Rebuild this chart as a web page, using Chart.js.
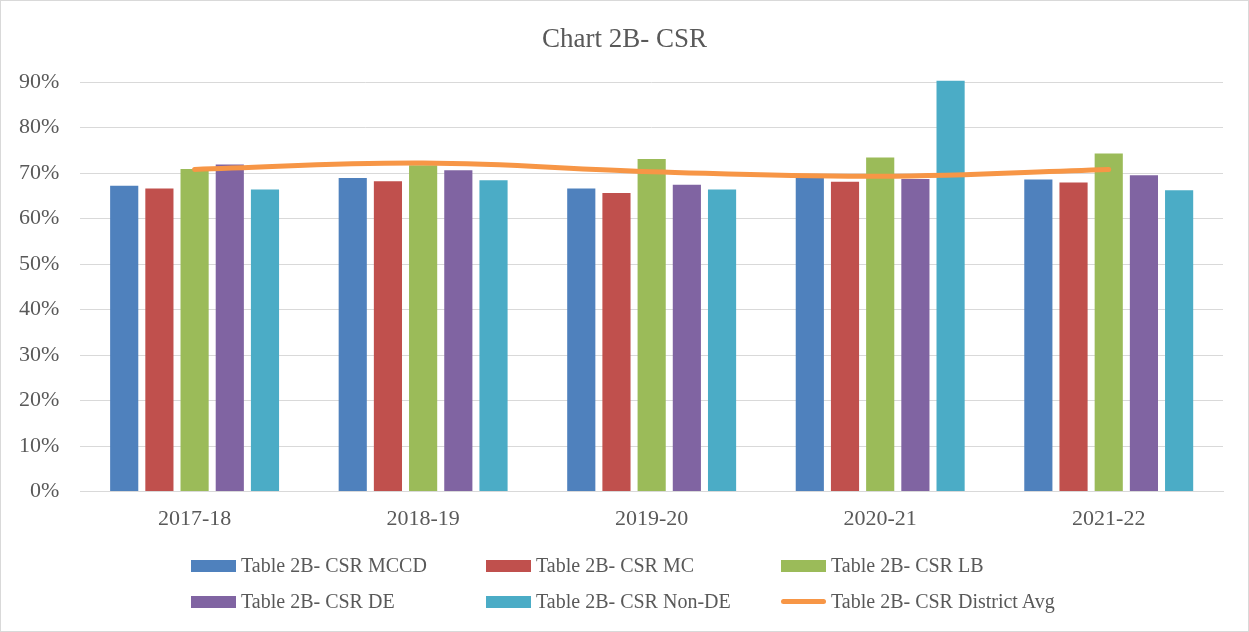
<!DOCTYPE html>
<html>
<head>
<meta charset="utf-8">
<script src="https://cdn.jsdelivr.net/npm/chart.js@4/dist/chart.umd.min.js"></script>
<style>
  html, body { margin: 0; padding: 0; background: #fff; }
  #wrap { position: relative; width: 1247px; height: 630px; border: 1px solid #d9d9d9; background: #fff; }
  #title { position: absolute; left: 0; top: 21px; width: 100%; text-align: center; line-height: 32px;
           font-family: "Liberation Serif", serif; font-size: 27px; color: #595959; }
  #legend { position: absolute; left: 0; top: 0; width: 100%; height: 100%; pointer-events: none;
            font-family: "Liberation Serif", serif; font-size: 20px; color: #595959; }
  .item { position: absolute; display: flex; align-items: center; white-space: nowrap; }
  .box { width: 45px; height: 12px; margin-right: 5px; }
  .ln { width: 45px; height: 5px; border-radius: 3px; margin-right: 5px; }
</style>
</head>
<body>
<div id="wrap">
  <canvas id="chart" width="1247" height="630"></canvas>
  <div id="title">Chart 2B- CSR</div>
  <div id="legend"></div>
</div>
<script>
const categories = ['2017-18', '2018-19', '2019-20', '2020-21', '2021-22'];
const seriesNames = ['Table 2B- CSR MCCD', 'Table 2B- CSR MC', 'Table 2B- CSR LB',
                     'Table 2B- CSR DE', 'Table 2B- CSR Non-DE', 'Table 2B- CSR District Avg'];
const mccd    = [0.672, 0.689, 0.666, 0.689, 0.686];
const mc      = [0.666, 0.682, 0.656, 0.681, 0.679];
const lb      = [0.709, 0.717, 0.731, 0.734, 0.743];
const de      = [0.719, 0.706, 0.674, 0.687, 0.695];
const nonDe   = [0.664, 0.684, 0.664, 0.903, 0.662];
const distAvg = [0.708, 0.722, 0.703, 0.693, 0.708];
const colors = ['#4F81BD', '#C0504D', '#9BBB59', '#8064A2', '#4BACC6', '#F79646'];

const fontFamily = '"Liberation Serif", serif';
const textColor = '#595959';

function bar(i, values) {
    return {
        type: 'bar',
        label: seriesNames[i],
        data: values,
        backgroundColor: colors[i],
        borderWidth: 0,
        categoryPercentage: 0.77,
        barPercentage: 0.8,
        order: 1,
        clip: false
    };
}

new Chart(document.getElementById('chart').getContext('2d'), {
    data: {
        labels: categories,
        datasets: [
            bar(0, mccd),
            bar(1, mc),
            bar(2, lb),
            bar(3, de),
            bar(4, nonDe),
            {
                type: 'line',
                label: seriesNames[5],
                data: distAvg,
                borderColor: colors[5],
                backgroundColor: colors[5],
                borderWidth: 5,
                pointRadius: 0,
                tension: 0.4,
                borderCapStyle: 'round',
                order: 0
            }
        ]
    },
    options: {
        responsive: false,
        animation: false,
        layout: { padding: { left: -3, right: 25, top: 81, bottom: 93 } },
        plugins: {
            legend: { display: false },
            tooltip: { enabled: false },
            title: { display: false }
        },
        scales: {
            x: {
                grid: { display: false },
                border: { display: true, color: '#d9d9d9' },
                ticks: { color: textColor, font: { family: fontFamily, size: 22 }, padding: 6 }
            },
            y: {
                min: 0,
                max: 0.9,
                grid: { color: '#d9d9d9', drawTicks: false },
                border: { display: false },
                ticks: {
                    stepSize: 0.1,
                    color: textColor,
                    padding: 21,
                    font: { family: fontFamily, size: 22 },
                    callback: v => Math.round(v * 100) + '%'
                }
            }
        }
    }
});

// legend laid out in a 3-column grid
const legend = document.getElementById('legend');
const cols = [190, 485, 780];
const rows = [565, 601];
seriesNames.forEach((name, i) => {
    const el = document.createElement('div');
    el.className = 'item';
    el.style.left = cols[i % 3] + 'px';
    el.style.top = (rows[Math.floor(i / 3)] - 12) + 'px';
    const mark = document.createElement('span');
    mark.className = i === 5 ? 'ln' : 'box';
    mark.style.background = colors[i];
    const txt = document.createElement('span');
    txt.textContent = name;
    el.appendChild(mark);
    el.appendChild(txt);
    legend.appendChild(el);
});
</script>
</body>
</html>
